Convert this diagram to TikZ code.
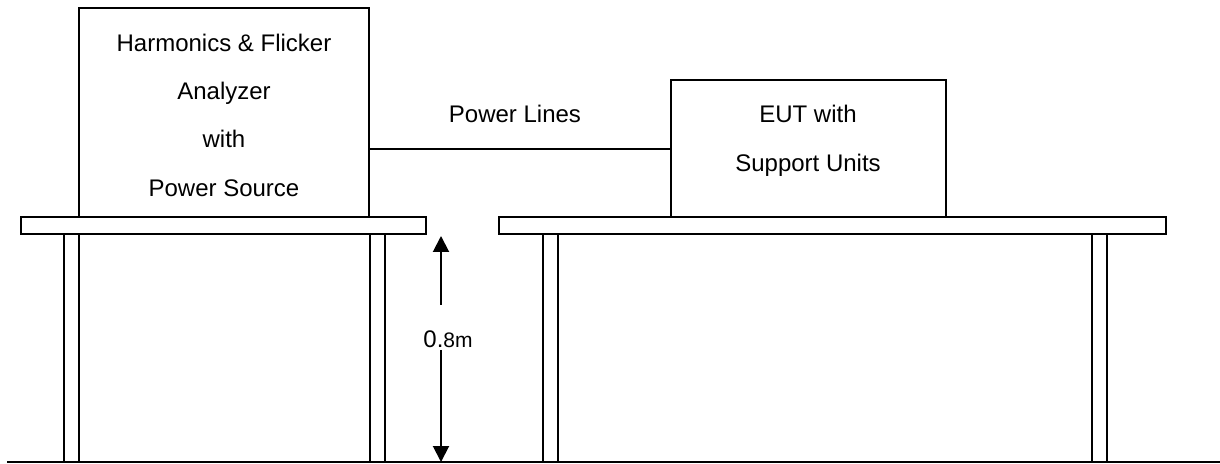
\documentclass[tikz,border=0pt]{standalone}
\usepackage{fontspec}
\setmainfont{Liberation Sans}
\usetikzlibrary{fit,arrows.meta}
\begin{document}
\begin{tikzpicture}[x=0.5pt,y=-0.5pt,line width=1pt,
  box/.style={draw,inner sep=0pt,line width=1pt},
  lbl/.style={anchor=base,inner sep=0pt,font=\fontsize{12}{14}\selectfont},
  tabletop/.style={draw,line width=1pt},
  leg/.style={draw,line width=0.8pt},
  dimarrow/.style={-{Triangle[width=8pt,length=8pt]},line width=1pt}]
\useasboundingbox (0,0) rectangle (1220,464);
% ground
\coordinate (g1) at (7,462);
\coordinate (g2) at (1220,462);
\draw[line width=1pt] (g1) -- (g2);
% legs
\draw[leg] (64,234.5) rectangle (79,462);
\draw[leg] (370,234.5) rectangle (385,462);
\draw[leg] (543,234.5) rectangle (558,462);
\draw[leg] (1092,234.5) rectangle (1107,462);
% table tops
\draw[tabletop] (21,217.5) rectangle (426,234.5);
\draw[tabletop] (499,217.5) rectangle (1166,234.5);
% boxes
\node[box,fit={(79,8) (369,217.5)}] (ana) {};
\node[box,fit={(671,80) (946,217.5)}] (eut) {};
% texts
\node[lbl] (t1) at (224,52) {Harmonics \& Flicker};
\node[lbl] (t2) at (224,100) {Analyzer};
\node[lbl] (t3) at (224,148) {with};
\node[lbl] (t4) at (224,197) {Power Source};
\node[lbl] (e1) at (808,123) {EUT with};
\node[lbl] (e2) at (808,172) {Support Units};
\node[lbl] (pl) at (515,123) {Power Lines};
% power line
\coordinate (pw) at (520,149);
\draw (ana.east |- pw) -- (eut.west |- pw);
% height dimension
\node[anchor=base,inner sep=0pt] (h) at (448,348) {{\fontsize{12}{14}\selectfont 0.}{\fontsize{10.5}{12}\selectfont 8m}};
\coordinate (atop) at (441,236);
\coordinate (abot) at (441,462);
\coordinate (a1) at (441,305);
\coordinate (a2) at (441,350);
\draw[dimarrow] (a1) -- (atop);
\draw[dimarrow] (a2) -- (abot);
\end{tikzpicture}
\end{document}
